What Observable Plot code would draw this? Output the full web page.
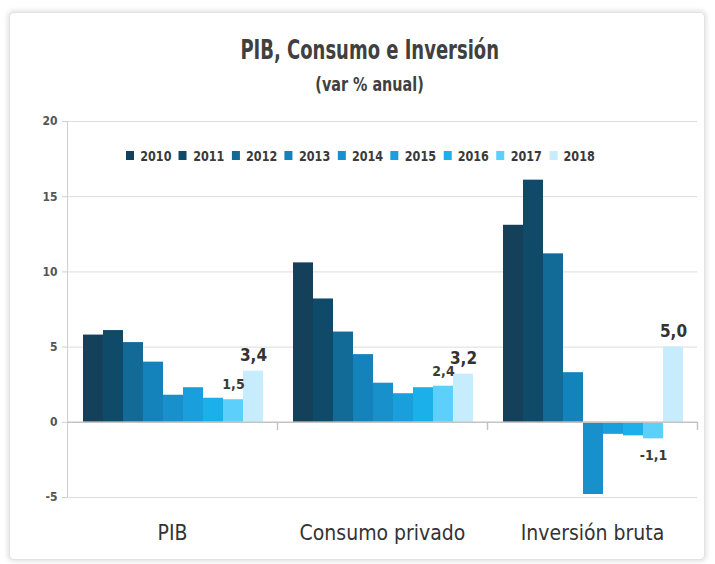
<!DOCTYPE html>
<html>
<head>
<meta charset="utf-8">
<script src="https://cdn.jsdelivr.net/npm/d3@7"></script>
<script src="https://cdn.jsdelivr.net/npm/@observablehq/plot@0.6"></script>
<style>
  html, body { margin: 0; padding: 0; background: #fff; }
  body { width: 715px; height: 564px; position: relative; overflow: hidden;
         font-family: "Liberation Sans Narrow", "DejaVu Sans Condensed", "DejaVu Sans", sans-serif;
         font-stretch: condensed; }
  #frame { position: absolute; left: 9px; top: 12px; width: 694px; height: 546px;
           border: 1px solid #e2e2e2; border-radius: 5px;
           box-shadow: 0 0 4px 2px rgba(0,0,0,0.10); background: #fff; }
  .head { position: absolute; left: 170px; width: 400px; text-align: center; color: #404040; font-weight: bold; }
  .head span { display: inline-block; transform: scaleX(0.74); transform-origin: center; }
  #title { top: 34px; font-size: 27px; line-height: 32px; }
  #subtitle { top: 72px; font-size: 19px; line-height: 24px; }
  #subtitle span { transform: scaleX(0.84); }
  #chart { position: absolute; left: 0; top: 0; }
  #chart svg, #chart text { font-stretch: condensed; }
  #legend { position: absolute; left: 126px; top: 139px; width: 600px; white-space: nowrap;
            transform: scaleX(0.89); transform-origin: left center; }
  #legend div { font-family: "Liberation Sans Narrow", "DejaVu Sans Condensed", "DejaVu Sans", sans-serif !important;
                font-stretch: condensed; flex-wrap: nowrap !important;
                font-size: 14px !important; font-weight: bold; color: #3a3a3a; }
  #legend span { margin-right: 0.6em !important; }
</style>
</head>
<body>
<div id="frame"></div>
<div id="chart"></div>
<div id="title" class="head"><span>PIB, Consumo e Inversión</span></div>
<div id="subtitle" class="head"><span>(var % anual)</span></div>
<div id="legend"></div>
<script>
const groups = ["PIB", "Consumo privado", "Inversión bruta"];
const years = ["2010", "2011", "2012", "2013", "2014", "2015", "2016", "2017", "2018"];
const pib = [5.8, 6.1, 5.3, 4.0, 1.8, 2.3, 1.6, 1.5, 3.4];
const consumo = [10.6, 8.2, 6.0, 4.5, 2.6, 1.9, 2.3, 2.4, 3.2];
const inversion = [13.1, 16.1, 11.2, 3.3, -4.8, -0.8, -0.9, -1.1, 5.0];
const colors = ["#15405a", "#0f4a69", "#116b96", "#1483bb", "#1790cc", "#189fdc", "#1cb0ea", "#5dcffb", "#c6ecfd"];
const yTicks = [-5, 0, 5, 10, 15, 20];
const labelYears = ["2017", "2018"];

const series = [pib, consumo, inversion];
const rows = [];
groups.forEach((g, gi) => {
  years.forEach((yr, i) => rows.push({group: g, year: yr, i, value: series[gi][i]}));
});
const fmt = v => v.toFixed(1).replace(".", ",");
const lab17pos = rows.filter(d => d.year === labelYears[0] && d.value >= 0);
const lab17neg = rows.filter(d => d.year === labelYears[0] && d.value < 0);
const lab18 = rows.filter(d => d.year === labelYears[1]);

const font = '"Liberation Sans Narrow", "DejaVu Sans Condensed", "DejaVu Sans", sans-serif';

const chart = Plot.plot({
  width: 715,
  height: 564,
  marginTop: 121,
  marginBottom: 67,
  marginLeft: 67,
  marginRight: 18,
  style: {background: "transparent", fontFamily: font, fontStretch: "condensed", overflow: "visible"},
  fx: {domain: groups, padding: 0, label: null},
  x: {domain: [-0.8, 9.7], axis: null},
  y: {domain: [-5, 20], ticks: yTicks, label: null},
  color: {domain: years, range: colors},
  marks: [
    Plot.gridY(yTicks.filter(d => d !== 0), {stroke: "#dcdcdc", strokeOpacity: 1}),
    Plot.ruleX([-0.8], {fx: () => groups[0], y1: -5, y2: 20, stroke: "#cfcfcf"}),
    Plot.axisY({ticks: yTicks, tickSize: 5, tickPadding: 5, stroke: "#cfcfcf", fill: "#555",
                tickFormat: d => String(d), fontSize: 12, fontWeight: "bold", label: null}),
    Plot.rectY(rows, {fx: "group", x1: d => d.i, x2: d => d.i + 1, y: "value", fill: "year"}),
    Plot.ruleY([0], {stroke: "#c4c4c4", strokeWidth: 1.5}),
    Plot.ruleX(groups, {fx: d => d, x: () => 9.7, y1: 0, y2: -0.55, stroke: "#c4c4c4", strokeWidth: 1.5}),
    Plot.text(lab17pos, {fx: "group", x: d => d.i + 0.5, y: "value", text: d => fmt(d.value),
                         dy: -15, fontSize: 14, fontWeight: "bold", fill: "#3a3a3a"}),
    Plot.text(lab17neg, {fx: "group", x: d => d.i + 0.5, y: "value", text: d => fmt(d.value),
                         dy: 17, fontSize: 14, fontWeight: "bold", fill: "#3a3a3a"}),
    Plot.text(lab18, {fx: "group", x: d => d.i + 0.5, y: "value", text: d => fmt(d.value),
                      dy: -16, fontSize: 17, fontWeight: "bold", fill: "#333"}),
    Plot.axisFx({anchor: "bottom", tickSize: 0, tickPadding: 28, fontSize: 21, fill: "#333", label: null})
  ]
});
document.getElementById("chart").appendChild(chart);

const legend = Plot.legend({
  color: {domain: years, range: colors},
  legend: "swatches",
  swatchSize: 9,
  style: {fontFamily: font, fontSize: "14px"}
});
document.getElementById("legend").appendChild(legend);
</script>
</body>
</html>
